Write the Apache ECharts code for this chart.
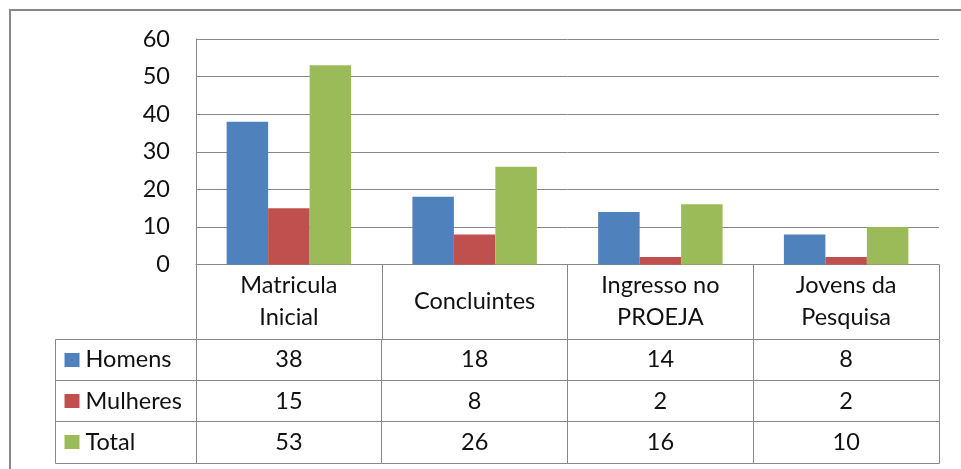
<!DOCTYPE html>
<html>
<head>
<meta charset="utf-8">
<script src="https://cdn.jsdelivr.net/npm/echarts@6/dist/echarts.min.js"></script>
<style>
html,body{margin:0;padding:0;background:#fff;}
#chart{width:961px;height:469px;}
</style>
</head>
<body>
<div id="chart"></div>
<script>
const categories = ['Matricula\nInicial', 'Concluintes', 'Ingresso no\nPROEJA', 'Jovens da\nPesquisa'];
const seriesNames = ['Homens', 'Mulheres', 'Total'];
const homens = [38, 18, 14, 8];
const mulheres = [15, 8, 2, 2];
const total = [53, 26, 16, 10];
const seriesColors = ['#4F81BD', '#C0504D', '#9BBB59'];
const yMin = 0, yMax = 60, yInterval = 10;

const FONT = 'Lato';
const FS = 23.5;
const LINE = '#878787';
const TXT = '#111';

const values = [homens, mulheres, total];
const tableData = [];
values.forEach((arr, r) => arr.forEach((v, c) => tableData.push([c, r, v])));
const labelData = seriesNames.map((n, r) => [0, r, n]);

function crisp(v) { return Math.round(v - 0.5) + 0.5; }

const chart = echarts.init(document.getElementById('chart'));
chart.setOption({
  animation: false,
  textStyle: { fontFamily: FONT },
  graphic: [{
    type: 'rect', shape: { x: 10, y: 10, width: 1000, height: 1000 },
    style: { fill: 'none', stroke: '#888', lineWidth: 2 }, silent: true, z: -1
  }],
  grid: [
    { left: 196, right: 22, top: 39, bottom: 204.5 },
    { left: 196, right: 22, top: 339, bottom: 6 },
    { left: 55, width: 141, top: 339, bottom: 6 }
  ],
  xAxis: [
    {
      type: 'category', gridIndex: 0, data: categories,
      axisLine: { show: true, lineStyle: { color: LINE, width: 1 } },
      axisTick: { show: true, length: 74.5, alignWithLabel: false, lineStyle: { color: LINE } },
      axisLabel: { fontFamily: FONT, fontSize: FS, color: TXT, lineHeight: 32, margin: 36.5, verticalAlign: 'middle', interval: 0 },
      splitLine: { show: false }
    },
    { type: 'category', gridIndex: 1, data: categories, show: false },
    { type: 'category', gridIndex: 2, data: [''], show: false }
  ],
  yAxis: [
    {
      type: 'value', gridIndex: 0, min: yMin, max: yMax, interval: yInterval,
      axisLine: { show: true, lineStyle: { color: LINE } },
      axisTick: { show: false },
      axisLabel: { fontFamily: FONT, fontSize: FS, color: TXT, margin: 26 },
      splitLine: { show: true, lineStyle: { color: LINE, width: 1 } }
    },
    { type: 'category', gridIndex: 1, data: seriesNames, inverse: true, show: false },
    { type: 'category', gridIndex: 2, data: seriesNames, inverse: true, show: false }
  ],
  series: [
    { name: seriesNames[0], type: 'bar', xAxisIndex: 0, yAxisIndex: 0, data: homens, itemStyle: { color: seriesColors[0] }, barGap: '0%', barCategoryGap: '33%' },
    { name: seriesNames[1], type: 'bar', xAxisIndex: 0, yAxisIndex: 0, data: mulheres, itemStyle: { color: seriesColors[1] }, barGap: '0%', barCategoryGap: '33%' },
    { name: seriesNames[2], type: 'bar', xAxisIndex: 0, yAxisIndex: 0, data: total, itemStyle: { color: seriesColors[2] }, barGap: '0%', barCategoryGap: '33%' },
    {
      type: 'custom', xAxisIndex: 1, yAxisIndex: 1, data: tableData,
      renderItem: function (params, api) {
        const c = api.coord([api.value(0), api.value(1)]);
        const s = api.size([1, 1]);
        const x0 = crisp(c[0] - s[0] / 2), y0 = crisp(c[1] - s[1] / 2);
        const x1 = crisp(c[0] + s[0] / 2), y1 = crisp(c[1] + s[1] / 2);
        return {
          type: 'group', children: [
            { type: 'rect', shape: { x: x0, y: y0, width: x1 - x0, height: y1 - y0 }, style: { fill: 'none', stroke: LINE, lineWidth: 1 } },
            { type: 'text', style: { text: String(api.value(2)), x: c[0], y: c[1], align: 'center', verticalAlign: 'middle', textAlign: 'center', textVerticalAlign: 'middle', font: FS + 'px ' + FONT, fill: TXT } }
          ]
        };
      }
    },
    {
      type: 'custom', xAxisIndex: 2, yAxisIndex: 2, data: labelData,
      renderItem: function (params, api) {
        const r = api.value(1);
        const c = api.coord([0, r]);
        const s = api.size([1, 1]);
        const x0 = crisp(c[0] - s[0] / 2), y0 = crisp(c[1] - s[1] / 2);
        const x1 = crisp(c[0] + s[0] / 2), y1 = crisp(c[1] + s[1] / 2);
        return {
          type: 'group', children: [
            { type: 'rect', shape: { x: x0, y: y0, width: x1 - x0, height: y1 - y0 }, style: { fill: 'none', stroke: LINE, lineWidth: 1 } },
            { type: 'rect', shape: { x: x0 + 9, y: Math.round(c[1] - 7), width: 15, height: 14 }, style: { fill: seriesColors[r] } },
            { type: 'text', style: { text: seriesNames[r], x: x0 + 30, y: c[1], align: 'left', verticalAlign: 'middle', textAlign: 'left', textVerticalAlign: 'middle', font: FS + 'px ' + FONT, fill: TXT } }
          ]
        };
      }
    }
  ]
});
</script>
</body>
</html>
